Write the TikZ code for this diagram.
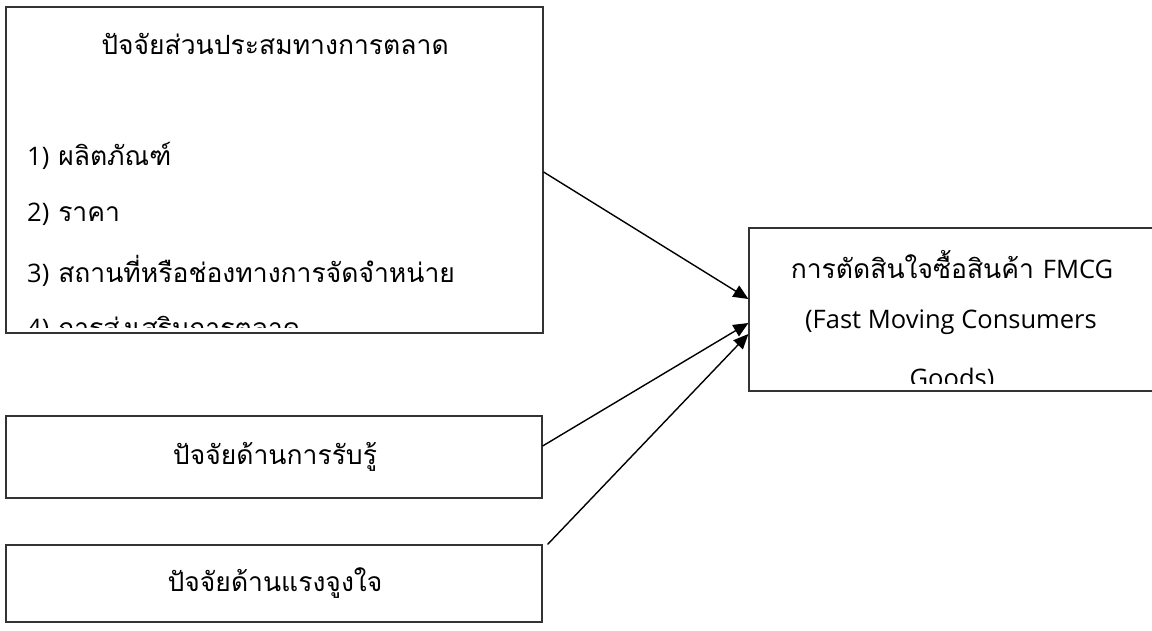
\documentclass[tikz,border=0pt]{standalone}
\usepackage{fontspec}
\newfontfamily\thaifont[Script=Thai]{Loma}
\newfontfamily\latfont{Open Sans}
\newcommand{\lt}[1]{{\latfont\fontsize{25.5}{30}\selectfont #1}}
\usetikzlibrary{arrows.meta,calc}
\tikzset{
  box/.style={draw=black!80, line width=1.2pt, rectangle, inner sep=0pt},
  txt/.style={font=\thaifont\fontsize{26.5}{30}\selectfont, inner sep=0pt, anchor=center},
  ltxt/.style={font=\thaifont\fontsize{26.5}{30}\selectfont, inner sep=0pt, anchor=west},
  arr/.style={line width=1.4pt, -{Triangle[length=15pt,width=13pt]}}
}
\begin{document}
\begin{tikzpicture}[x=1pt,y=-1pt]
\useasboundingbox (0,0) rectangle (1152,630);
\node[box, minimum width=537pt, minimum height=326pt] (b1) at (274.5,170) {};
\node[box, minimum width=460pt, minimum height=163pt] (b2) at (979,309.5) {};
\node[box, minimum width=536pt, minimum height=82pt] (b3) at (274,457) {};
\node[box, minimum width=536pt, minimum height=77pt] (b4) at (274,583.5) {};
\begin{scope}
  \clip (7,8) rectangle (542,327);
  \node[txt] (t0) at (275,44) {ปัจจัยส่วนประสมทางการตลาด};
  \node[ltxt] (t1) at (27,156) {\lt{1)} ผลิตภัณฑ์};
  \node[ltxt] (t2) at (27,214) {\lt{2)} ราคา};
  \node[ltxt] (t3) at (27,271) {\lt{3)} สถานที่หรือช่องทางการจัดจำหน่าย};
  \node[ltxt] (t4) at (27,329) {\lt{4)} การส่งเสริมการตลาด};
\end{scope}
\begin{scope}
  \clip (750,229) rectangle (1152,383);
  \node[txt] (r1) at (952,265) {การตัดสินใจซื้อสินค้า \lt{FMCG}};
  \node[txt] (r2) at (951,322) {\lt{(Fast Moving Consumers}};
  \node[txt] (r3) at (952,380) {\lt{Goods)}};
\end{scope}
\node[txt] (t5) at (275,457) {ปัจจัยด้านการรับรู้};
\node[txt] (t6) at (275,583) {ปัจจัยด้านแรงจูงใจ};
\draw[arr] ([yshift=-2pt]b1.east) -- ([yshift=10.5pt]b2.west);
\draw[arr] ([yshift=11pt]b3.east) -- ([yshift=-13.5pt]b2.west);
\draw[arr] ([xshift=5pt]b4.north east) -- ([yshift=-24.5pt]b2.west);
\end{tikzpicture}
\end{document}
